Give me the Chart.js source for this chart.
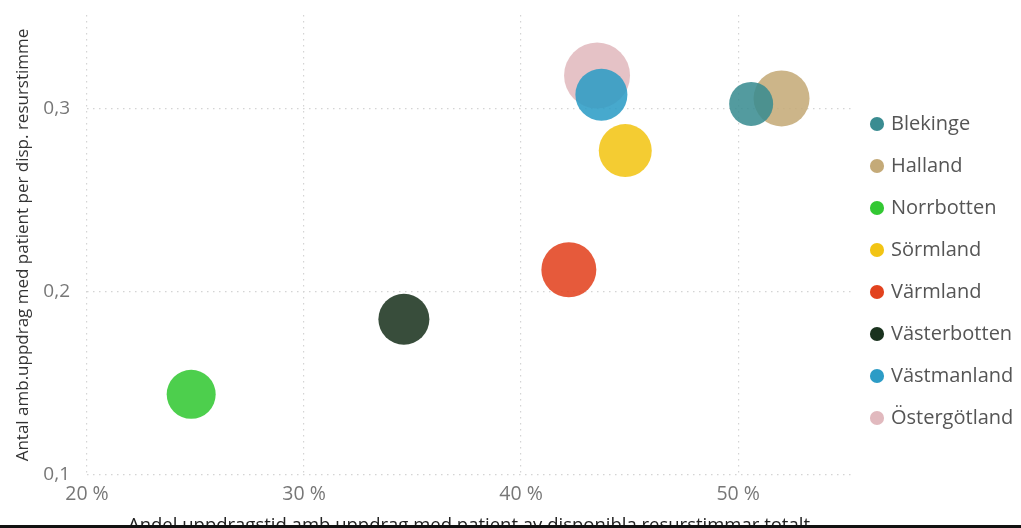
<!DOCTYPE html>
<html>
<head>
<meta charset="utf-8">
<script src="https://cdn.jsdelivr.net/npm/chart.js@4"></script>
<style>
  html, body { margin: 0; padding: 0; background: #fff; overflow: hidden; width: 1021px; height: 528px; }
  #wrap { position: relative; width: 1021px; height: 528px; overflow: hidden; }
  canvas { display: block; }
  #bar { position: absolute; left: 0; top: 525px; width: 1021px; height: 3px; background: #111; }
</style>
</head>
<body>
<div id="wrap">
  <canvas id="c" width="1021" height="545"></canvas>
  <div id="bar"></div>
</div>
<script>
// ---- data ----
const regions = ['Blekinge', 'Halland', 'Norrbotten', 'Sörmland', 'Värmland', 'Västerbotten', 'Västmanland', 'Östergötland'];
const shareOfTime = [50.6, 52.0, 24.8, 44.8, 42.2, 34.6, 43.7, 43.5];          // x, percent
const tripsPerHour = [0.3025, 0.3055, 0.144, 0.277, 0.212, 0.185, 0.3075, 0.318]; // y
const bubbleSize = [22, 28, 24.5, 26.5, 27.5, 25.5, 26, 33];
const colors = ['#3a8c91', '#c4aa78', '#33c833', '#f2c414', '#e2421e', '#1a321e', '#2c9cc6', '#e1b9be'];
const xTicks = [20, 30, 40, 50];
const yTicks = [0.1, 0.2, 0.3];
const xTitle = 'Andel uppdragstid amb.uppdrag med patient av disponibla resurstimmar totalt';
const yTitle = 'Antal amb.uppdrag med patient per disp. resurstimme';

function withAlpha(hex, a) {
  const n = parseInt(hex.slice(1), 16);
  return `rgba(${(n >> 16) & 255},${(n >> 8) & 255},${n & 255},${a})`;
}

const datasets = regions.map((name, i) => ({
  label: name,
  data: [{ x: shareOfTime[i], y: tripsPerHour[i], r: bubbleSize[i] }],
  backgroundColor: withAlpha(colors[i], 0.87),
  borderWidth: 0,
  hoverBorderWidth: 0
}));

const legendWidthPlugin = {
  id: 'legendWidth',
  beforeInit(chart) {
    const orig = chart.legend.fit;
    chart.legend.fit = function () {
      orig.call(this);
      this.width = 170;
    };
  }
};

const grid = {
  color: '#d4d4d4',
  lineWidth: 1.2,
  drawTicks: false
};

const fontFamily = '"Open Sans", "Noto Sans", sans-serif';

new Chart(document.getElementById('c'), {
  type: 'bubble',
  data: { datasets },
  plugins: [legendWidthPlugin],
  options: {
    responsive: false,
    animation: false,
    layout: { autoPadding: false, padding: { top: 15, left: 0, right: 0, bottom: 0 } },
    plugins: {
      tooltip: { enabled: false },
      legend: {
        position: 'right',
        align: 'start',
        title: { display: true, text: '', font: { size: 10 }, padding: { top: 65, bottom: 0 } },
        labels: {
          usePointStyle: true,
          pointStyle: 'circle',
          boxWidth: 8,
          boxHeight: 10,
          padding: 22,
          color: '#555',
          font: { family: fontFamily, size: 20 },
          generateLabels(chart) {
            return chart.data.datasets.map((ds, i) => ({
              text: ds.label,
              fillStyle: colors[i],
              strokeStyle: colors[i],
              lineWidth: 0,
              pointStyle: 'circle',
              datasetIndex: i,
              hidden: false,
              fontColor: '#555'
            }));
          }
        }
      }
    },
    scales: {
      x: {
        type: 'linear',
        min: 20,
        max: 55.2,
        afterBuildTicks(scale) { scale.ticks = xTicks.map(v => ({ value: v })); },
        afterFit(scale) { scale.height = 545 - 475; },
        grid: { ...grid },
        border: { display: false, dash: [1.5, 4.5] },
        ticks: {
          padding: 8,
          color: '#777',
          font: { family: fontFamily, size: 19.5 },
          callback: v => v + ' %'
        },
        title: {
          display: true,
          text: xTitle,
          color: '#222',
          font: { family: fontFamily, size: 18.5 },
          padding: { top: 4, bottom: 8 }
        }
      },
      y: {
        type: 'linear',
        min: 0.1,
        max: 0.351,
        afterBuildTicks(scale) { scale.ticks = yTicks.map(v => ({ value: v })); },
        afterFit(scale) { scale.width = 87; scale.paddingTop = 0; scale.paddingBottom = 0; },
        grid: { ...grid },
        border: { display: false, dash: [1.5, 4.5] },
        ticks: {
          padding: 17,
          color: '#777',
          font: { family: fontFamily, size: 19 },
          callback: v => v.toFixed(1).replace('.', ',')
        },
        title: {
          display: true,
          text: yTitle,
          color: '#333',
          font: { family: fontFamily, size: 17 },
          padding: { top: 13, bottom: 0 }
        }
      }
    }
  }
});
</script>
</body>
</html>
